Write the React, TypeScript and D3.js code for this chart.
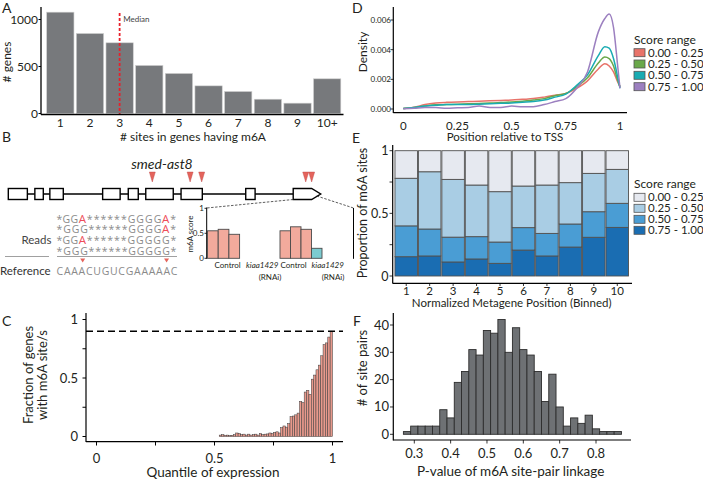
import React from 'react';
import * as d3 from 'd3';

const FONT = "Lato, 'Open Sans', 'Liberation Sans', sans-serif";
const SEQ_FONT = "'Open Sans', 'Noto Sans', sans-serif";
const TXT = '#231f20';

// ---------- Panel A ----------
const siteCategories = ['1', '2', '3', '4', '5', '6', '7', '8', '9', '10+'];
const geneCounts = [1078, 851, 752, 511, 426, 294, 234, 152, 110, 369];
const medianSites = '3';
const aYTicks = [0, 500, 1000];

// ---------- Panel B ----------
const exonStarts = [0, 85, 133, 302, 384, 440, 553, 760, 912];
const exonEnds = [61, 112, 176, 358, 416, 528, 621, 790, 971];
const geneEnd = 1000;
const m6aSites = [461, 582, 619, 952, 971];
const readRows = ['*GGA******GGGGA*', '*GGG******GGGGA*', '*GGA******GGGGG*', '*GGG******GGGGG*'];
const referenceSeq = 'CAAACUGUCGAAAAAC';
const referenceSiteIdx = [3, 14];
const controlScoresA = [0.55, 0.58, 0.48];
const kiaaScoresA = [0, 0];
const controlScoresB = [0.55, 0.63, 0.58];
const kiaaScoresB = [0.2, 0, 0];
const insetTicks = [0, 0.5, 1];

// ---------- Panel C ----------
const quantileFractions = [
  0, 0, 0, 0, 0, 0, 0, 0, 0, 0,
  0, 0, 0, 0, 0, 0, 0, 0, 0, 0,
  0, 0, 0, 0, 0, 0, 0, 0, 0, 0,
  0, 0, 0, 0, 0, 0, 0, 0, 0, 0,
  0, 0, 0, 0, 0, 0, 0, 0, 0, 0,
  0, 0, 0.012, 0.015, 0.01, 0.012, 0.008, 0.01, 0.015, 0.03,
  0.025, 0.015, 0.02, 0.012, 0.02, 0.012, 0.015, 0.02, 0.012, 0.025,
  0.015, 0.02, 0.022, 0.03, 0.025, 0.035, 0.04, 0.03, 0.075, 0.09,
  0.08, 0.11, 0.17, 0.175, 0.185, 0.2, 0.3, 0.29, 0.38, 0.395,
  0.36, 0.49, 0.525, 0.57, 0.61, 0.69, 0.785, 0.8, 0.85, 0.9,
];
const cTicks = [0, 0.25, 0.5, 0.75, 1];
const cLabelTicks = [0, 0.5, 1];
const cThreshold = 0.9;

// ---------- Panel D ----------
const densityPositions = [0, 0.05, 0.1, 0.15, 0.2, 0.25, 0.3, 0.35, 0.4, 0.45, 0.5, 0.55, 0.6, 0.65, 0.7, 0.75, 0.8, 0.85, 0.9, 0.93, 0.95, 0.97, 0.99, 1.0];
const densityS1 = [0.00003, 0.00012, 0.0003, 0.0004, 0.00045, 0.00048, 0.0005, 0.00052, 0.00055, 0.00058, 0.0006, 0.00065, 0.0007, 0.0008, 0.00092, 0.00105, 0.0014, 0.0019, 0.0027, 0.00305, 0.0029, 0.0025, 0.0018, 0.0015];
const densityS2 = [0.00003, 0.0001, 0.0002, 0.00028, 0.0003, 0.00032, 0.00035, 0.00037, 0.0004, 0.00043, 0.00048, 0.00052, 0.0006, 0.0007, 0.0009, 0.00105, 0.0015, 0.0021, 0.0031, 0.0035, 0.0034, 0.0029, 0.0019, 0.0015];
const densityS3 = [0.00003, 0.0001, 0.0002, 0.00025, 0.0003, 0.0003, 0.0003, 0.00032, 0.00035, 0.00038, 0.0004, 0.00045, 0.0005, 0.0006, 0.0008, 0.001, 0.0016, 0.0023, 0.0036, 0.0042, 0.0041, 0.0034, 0.0021, 0.0014];
const densityS4 = [0.00002, 0.00005, 0.0001, 0.0001, 0.00005, 0.00008, 0.0001, 0.0002, 0.0001, 0.0001, 0.0002, 0.00015, 0.00015, 0.0003, 0.0005, 0.0007, 0.0014, 0.0025, 0.0052, 0.0061, 0.0064, 0.0055, 0.0028, 0.0014];
const dYTicks = [0, 0.002, 0.004, 0.006];
const dXTicks = [0, 0.25, 0.5, 0.75, 1];
const scoreRanges = ['0.00 - 0.25', '0.25 - 0.50', '0.50 - 0.75', '0.75 - 1.00'];
const densityColors = ['#e8736a', '#6aa84a', '#19abb2', '#9c80c0'];

// ---------- Panel E ----------
const metageneBins = ['1', '2', '3', '4', '5', '6', '7', '8', '9', '10'];
const propScore0to25 = [0.22, 0.168, 0.229, 0.274, 0.327, 0.282, 0.274, 0.255, 0.181, 0.149];
const propScore25to50 = [0.38, 0.457, 0.461, 0.412, 0.402, 0.332, 0.386, 0.33, 0.306, 0.271];
const propScore50to75 = [0.246, 0.215, 0.198, 0.178, 0.17, 0.179, 0.18, 0.184, 0.204, 0.192];
const propScore75to100 = [0.154, 0.16, 0.112, 0.136, 0.101, 0.207, 0.16, 0.231, 0.309, 0.388];
const eYTicks = [0, 0.25, 0.5, 0.75, 1];
const eLabelTicks = [0, 0.5, 1];
const blueColors = ['#e6e9f0', '#a9cde4', '#4a9dd4', '#1a6db2'];

// ---------- Panel F ----------
const pvalueBinStarts = [0.27, 0.29, 0.31, 0.33, 0.35, 0.37, 0.39, 0.41, 0.43, 0.45, 0.47, 0.49, 0.51, 0.53, 0.55, 0.57, 0.59, 0.61, 0.63, 0.65, 0.67, 0.69, 0.71, 0.73, 0.75, 0.77, 0.79, 0.81, 0.83, 0.85];
const sitePairCounts = [1, 3, 3, 3, 3, 9, 6, 19, 23, 31, 29, 38, 37, 42, 30, 39, 31, 29, 23, 12, 22, 10, 3, 6, 4, 7, 2, 1, 1, 1];
const fBinWidth = 0.02;
const fXTicks = [0.3, 0.4, 0.5, 0.6, 0.7, 0.8];
const fYTicks = [0, 10, 20, 30, 40];

const fmt = (v: number) => (v === 0 ? '0' : String(v));

function PanelA() {
  const x = d3.scaleBand<string>().domain(siteCategories).range([45.5, 342]).paddingInner(0.08).paddingOuter(0.04);
  const y = d3.scaleLinear().domain([0, 1000]).range([113.5, 19.5]);
  const mx = (x(medianSites) as number) + x.bandwidth() / 2;
  return (
    <g>
      <text x={2} y={12.5} fontSize={14} fill={TXT}>A</text>
      {siteCategories.map((c, i) => (
        <rect key={c} x={x(c)} y={y(geneCounts[i])} width={x.bandwidth()} height={y(0) - y(geneCounts[i])}
          fill="#77797c" stroke="#cfcfcf" strokeWidth={0.6} />
      ))}
      <line x1={mx} x2={mx} y1={13} y2={114} stroke="#e8202a" strokeWidth={1.8} strokeDasharray="3,2" />
      <text x={mx + 3.5} y={22} fontSize={8} fill="#444">Median</text>
      <line x1={41} x2={41} y1={7} y2={114.5} stroke="#000" strokeWidth={1.3} />
      <line x1={41} x2={343.5} y1={114.5} y2={114.5} stroke="#000" strokeWidth={1.3} />
      {aYTicks.map(t => (
        <g key={t}>
          <line x1={38.5} x2={41} y1={y(t)} y2={y(t)} stroke="#000" />
          <text x={38} y={y(t) + 4} fontSize={12} textAnchor="end" fill={TXT}>{t}</text>
        </g>
      ))}
      {siteCategories.map(c => (
        <text key={c} x={(x(c) as number) + x.bandwidth() / 2} y={126.5} fontSize={12} textAnchor="middle" fill={TXT}>{c}</text>
      ))}
      <text x={193} y={141} fontSize={12} textAnchor="middle" fill={TXT}># sites in genes having m6A</text>
      <text transform="translate(11,62) rotate(-90)" fontSize={12} textAnchor="middle" fill={TXT}># genes</text>
    </g>
  );
}

// split a sequence into runs of highlighted / plain characters
function seqRuns(seq: string, highlight: boolean) {
  const runs: { start: number; text: string; red: boolean }[] = [];
  seq.split('').forEach((ch, i) => {
    const red = highlight && ch === 'A';
    const lastRun = runs[runs.length - 1];
    if (lastRun && lastRun.red === red && !red) lastRun.text += ch;
    else runs.push({ start: i, text: ch, red });
  });
  return runs;
}

function SeqText({ seq, scale, y, highlight }: { seq: string; scale: d3.ScaleBand<number>; y: number; highlight: boolean }) {
  const bw = scale.bandwidth();
  return (
    <g>
      {seqRuns(seq, highlight).map(r => {
        const x0 = scale(r.start) as number;
        if (r.text.length === 1) {
          return (
            <text key={r.start} x={x0 + bw / 2} y={y} textAnchor="middle" fontFamily={SEQ_FONT}
              fontSize={r.red ? 11.5 : 10.5} fill={r.red ? '#ee4d5a' : '#8a8a8a'}>{r.text}</text>
          );
        }
        return (
          <text key={r.start} x={x0 + 0.6} y={y} textLength={r.text.length * bw - 1.2} lengthAdjust="spacing"
            fontFamily={SEQ_FONT} fontSize={10.5} fill="#8a8a8a">{r.text}</text>
        );
      })}
    </g>
  );
}

function PanelB() {
  const gx = d3.scaleLinear().domain([0, geneEnd]).range([8.3, 320.7]);
  const gy = 194;
  const eh = 5.5;
  const readX = d3.scaleBand<number>().domain(d3.range(16)).range([56, 177]);
  const refX = d3.scaleBand<number>().domain(d3.range(referenceSeq.length)).range([56, 178]);
  const rowY = d3.scaleBand<number>().domain(d3.range(readRows.length)).range([214, 257]);
  const iy = d3.scaleLinear().domain([0, 1]).range([258.3, 208.3]);
  const gA = d3.scaleBand<number>().domain(d3.range(5)).range([207.5, 261]);
  const gB = d3.scaleBand<number>().domain(d3.range(6)).range([280, 343]);
  const last = exonStarts.length - 1;
  const arrowPath = `M${gx(exonStarts[last])},${gy - eh} L${gx(exonEnds[last])},${gy - eh} L${gx(geneEnd)},${gy} L${gx(exonEnds[last])},${gy + eh} L${gx(exonStarts[last])},${gy + eh} Z`;
  const barsA = [...controlScoresA, ...kiaaScoresA];
  const barsB = [...controlScoresB, ...kiaaScoresB];
  return (
    <g>
      <text x={2} y={142} fontSize={14} fill={TXT}>B</text>
      <text x={162} y={169} fontSize={14} fontStyle="italic" textAnchor="middle" fill={TXT}>smed-ast8</text>
      <line x1={gx(exonEnds[0])} x2={gx(exonStarts[last])} y1={gy} y2={gy} stroke="#000" strokeWidth={1.3} />
      {exonStarts.slice(0, last).map((s, i) => (
        <rect key={i} x={gx(s)} y={gy - eh} width={gx(exonEnds[i]) - gx(s)} height={eh * 2} fill="#fff" stroke="#000" strokeWidth={1.4} />
      ))}
      <path d={arrowPath} fill="#fff" stroke="#000" strokeWidth={1.4} />
      {m6aSites.map((s, i) => (
        <path key={i} d={`M${gx(s) - 3},172 L${gx(s) + 3},172 L${gx(s)},182 Z`} fill="#e4645c" stroke="#b44" strokeWidth={0.4} />
      ))}
      <line x1={gx(exonStarts[last])} y1={gy + eh} x2={206.7} y2={208} stroke="#333" strokeWidth={0.8} strokeDasharray="2.5,1.5" />
      <line x1={gx(geneEnd) - 4} y1={gy + 2} x2={353.5} y2={208} stroke="#333" strokeWidth={0.8} strokeDasharray="2.5,1.5" />
      {readRows.map((r, ri) => (
        <SeqText key={ri} seq={r} scale={readX} y={(rowY(ri) as number) + 8.5} highlight={true} />
      ))}
      <text x={51.5} y={244} fontSize={11.5} textAnchor="end" fill="#444">Reads</text>
      <line x1={5} x2={49} y1={256.5} y2={256.5} stroke="#a0a0a0" strokeWidth={1} />
      <line x1={57} x2={177} y1={256.5} y2={256.5} stroke="#a0a0a0" strokeWidth={1} />
      {referenceSiteIdx.map(i => {
        const cx = (refX(i) as number) + refX.bandwidth() / 2;
        return <path key={i} d={`M${cx - 2.5},258.5 L${cx + 2.5},258.5 L${cx},262.5 Z`} fill="#e4645c" />;
      })}
      <text x={0} y={275} fontSize={11.5} fill="#333">Reference</text>
      <SeqText seq={referenceSeq} scale={refX} y={275} highlight={false} />
      {/* inset */}
      <line x1={206.7} x2={206.7} y1={207.5} y2={258.8} stroke="#000" strokeWidth={1} />
      <line x1={353.5} x2={353.5} y1={208} y2={258.8} stroke="#000" strokeWidth={1} />
      {insetTicks.map(t => (
        <g key={t}>
          <line x1={204.5} x2={206.7} y1={iy(t)} y2={iy(t)} stroke="#000" strokeWidth={0.8} />
          <text x={204} y={iy(t) + 3} fontSize={8} textAnchor="end" fill={TXT}>{fmt(t)}</text>
        </g>
      ))}
      <text transform="translate(193,234) rotate(-90)" fontSize={8} textAnchor="middle" fill={TXT}>m6A score</text>
      {barsA.map((v, i) => (
        <rect key={'a' + i} x={gA(i)} y={iy(v)} width={gA.bandwidth()} height={iy(0) - iy(v)}
          fill="#f2aa9c" stroke="#4a4a4a" strokeWidth={0.9} />
      ))}
      {barsB.map((v, i) => (
        <rect key={'b' + i} x={gB(i)} y={iy(v)} width={gB.bandwidth()} height={iy(0) - iy(v)}
          fill={i < controlScoresB.length ? '#f2aa9c' : '#7ccbd0'} stroke="#4a4a4a" strokeWidth={0.9} />
      ))}
      <text x={214.5} y={268} fontSize={8} fill={TXT}>Control</text>
      <text x={246} y={268} fontSize={8} fontStyle="italic" fill={TXT}>kiaa1429</text>
      <text x={270} y={279.5} fontSize={8} textAnchor="middle" fill={TXT}>(RNAi)</text>
      <text x={280.5} y={268} fontSize={8} fill={TXT}>Control</text>
      <text x={311.5} y={268} fontSize={8} fontStyle="italic" fill={TXT}>kiaa1429</text>
      <text x={333} y={279.5} fontSize={8} textAnchor="middle" fill={TXT}>(RNAi)</text>
    </g>
  );
}

function PanelC() {
  const x = d3.scaleLinear().domain([0, 1]).range([96.5, 332.5]);
  const y = d3.scaleLinear().domain([0, 1]).range([436.5, 319.5]);
  const bw = x(0.01) - x(0);
  return (
    <g>
      <text x={2} y={326} fontSize={14} fill={TXT}>C</text>
      {quantileFractions.map((v, i) => (
        <rect key={i} x={x(i / 100)} y={y(v)} width={bw} height={y(0) - y(v)} fill="#e8998c" stroke="#3a3a3a" strokeWidth={0.5} />
      ))}
      <line x1={86} x2={343} y1={y(cThreshold)} y2={y(cThreshold)} stroke="#000" strokeWidth={1.5} strokeDasharray="7,4" />
      <line x1={86} x2={86} y1={313} y2={442} stroke="#000" strokeWidth={1.2} />
      <line x1={86} x2={343} y1={441.7} y2={441.7} stroke="#000" strokeWidth={1.2} />
      {cTicks.map(t => (
        <g key={t}>
          <line x1={82.5} x2={86} y1={y(t)} y2={y(t)} stroke="#000" />
          <line x1={x(t)} x2={x(t)} y1={441.7} y2={445.5} stroke="#000" />
        </g>
      ))}
      {cLabelTicks.map(t => (
        <g key={t}>
          <text x={78} y={y(t) + 4.5} fontSize={13} textAnchor="end" fill={TXT}>{fmt(t)}</text>
          <text x={x(t)} y={463} fontSize={13} textAnchor="middle" fill={TXT}>{fmt(t)}</text>
        </g>
      ))}
      <text x={213} y={476.5} fontSize={13.5} textAnchor="middle" fill={TXT}>Quantile of expression</text>
      <text transform="translate(33,375) rotate(-90)" fontSize={13} textAnchor="middle" fill={TXT}>Fraction of genes</text>
      <text transform="translate(47,375) rotate(-90)" fontSize={13} textAnchor="middle" fill={TXT}>with m6A site/s</text>
    </g>
  );
}

function Legend({ x0, titleY, rowYs, colors }: { x0: number; titleY: number; rowYs: number[]; colors: string[] }) {
  return (
    <g>
      <text x={x0} y={titleY} fontSize={12} fill={TXT}>Score range</text>
      {scoreRanges.map((s, i) => (
        <g key={s}>
          <rect x={x0} y={rowYs[i] - 4} width={11} height={8} fill={colors[i]} stroke="#555" strokeWidth={0.8} />
          <text x={x0 + 14} y={rowYs[i] + 4} fontSize={11.5} fill={TXT}>{s}</text>
        </g>
      ))}
    </g>
  );
}

function PanelD() {
  const x = d3.scaleLinear().domain([0, 1]).range([403.3, 620]);
  const y = d3.scaleLinear().domain([0, 0.006]).range([109, 20]);
  const series = [densityS1, densityS2, densityS3, densityS4];
  const line = d3.line<number>().x((_, i) => x(densityPositions[i])).y(d => y(d)).curve(d3.curveMonotoneX);
  return (
    <g>
      <text x={352} y={12.5} fontSize={14} fill={TXT}>D</text>
      {series.map((s, i) => (
        <path key={i} d={line(s) as string} fill="none" stroke={densityColors[i]} strokeWidth={1.5} />
      ))}
      <line x1={393.3} x2={393.3} y1={7} y2={113} stroke="#000" strokeWidth={1.2} />
      <line x1={393.3} x2={627} y1={112.7} y2={112.7} stroke="#000" strokeWidth={1.2} />
      {dYTicks.map(t => (
        <g key={t}>
          <line x1={390.5} x2={393.3} y1={y(t)} y2={y(t)} stroke="#000" strokeWidth={0.8} />
          <text x={391} y={y(t) + 3} fontSize={8} textAnchor="end" fill={TXT}>{t.toFixed(3)}</text>
        </g>
      ))}
      {dXTicks.map(t => (
        <text key={t} x={x(t)} y={129.5} fontSize={11.5} textAnchor="middle" fill={TXT}>{fmt(t)}</text>
      ))}
      <text x={505} y={141} fontSize={11.5} textAnchor="middle" fill={TXT}>Position relative to TSS</text>
      <text transform="translate(366.5,52) rotate(-90)" fontSize={12} textAnchor="middle" fill={TXT}>Density</text>
      <Legend x0={634} titleY={43.5} rowYs={[52.7, 64, 75.3, 86.7]} colors={densityColors} />
    </g>
  );
}

function PanelE() {
  const x = d3.scaleBand<string>().domain(metageneBins).range([394.5, 629]).paddingInner(0.04).paddingOuter(0.02);
  const y = d3.scaleLinear().domain([0, 1]).range([276, 150.7]);
  const rows = metageneBins.map((b, i) => ({
    bin: b,
    s1: propScore0to25[i], s2: propScore25to50[i], s3: propScore50to75[i], s4: propScore75to100[i],
  }));
  const stack = d3.stack<any>().keys(['s4', 's3', 's2', 's1']);
  const layers = stack(rows);
  const layerColor: Record<string, string> = { s1: blueColors[0], s2: blueColors[1], s3: blueColors[2], s4: blueColors[3] };
  return (
    <g>
      <text x={352} y={143} fontSize={14} fill={TXT}>E</text>
      {layers.map(layer => layer.map((d, i) => (
        <rect key={layer.key + i} x={x(rows[i].bin)} y={y(d[1])} width={x.bandwidth()} height={y(d[0]) - y(d[1])}
          fill={layerColor[layer.key]} stroke="#505050" strokeWidth={0.9} />
      )))}
      <line x1={392.7} x2={392.7} y1={145} y2={283.5} stroke="#000" strokeWidth={1.2} />
      <line x1={392.7} x2={632} y1={283.3} y2={283.3} stroke="#000" strokeWidth={1.2} />
      {eYTicks.map(t => (
        <line key={t} x1={389.5} x2={392.7} y1={y(t)} y2={y(t)} stroke="#000" strokeWidth={0.8} />
      ))}
      {eLabelTicks.map(t => (
        <text key={t} x={388.5} y={y(t) + 4.5} fontSize={12.5} textAnchor="end" fill={TXT}>{fmt(t)}</text>
      ))}
      {metageneBins.map(b => (
        <g key={b}>
          <line x1={(x(b) as number) + x.bandwidth() / 2} x2={(x(b) as number) + x.bandwidth() / 2} y1={283.3} y2={286} stroke="#000" strokeWidth={0.8} />
          <text x={(x(b) as number) + x.bandwidth() / 2} y={295} fontSize={11.5} textAnchor="middle" fill={TXT}>{b}</text>
        </g>
      ))}
      <text x={511.7} y={307} fontSize={11.5} textAnchor="middle" fill={TXT}>Normalized Metagene Position (Binned)</text>
      <text transform="translate(367,213) rotate(-90)" fontSize={12.5} textAnchor="middle" fill={TXT}>Proportion of m6A sites</text>
      <Legend x0={634} titleY={187.7} rowYs={[197.3, 208.3, 219.3, 230.3]} colors={blueColors} />
    </g>
  );
}

function PanelF() {
  const x = d3.scaleLinear().domain([0.3, 0.8]).range([414.3, 596]);
  const y = d3.scaleLinear().domain([0, 40]).range([434.3, 325]);
  return (
    <g>
      <text x={353} y={326} fontSize={14} fill={TXT}>F</text>
      {pvalueBinStarts.map((b, i) => (
        <rect key={i} x={x(b)} y={y(sitePairCounts[i])} width={x(b + fBinWidth) - x(b)} height={y(0) - y(sitePairCounts[i])}
          fill="#6e7174" stroke="#2d2d2d" strokeWidth={0.9} />
      ))}
      <line x1={393.3} x2={393.3} y1={313} y2={440.5} stroke="#000" strokeWidth={1.2} />
      <line x1={393.3} x2={631} y1={440} y2={440} stroke="#000" strokeWidth={1.2} />
      {fYTicks.map(t => (
        <g key={t}>
          <line x1={390} x2={393.3} y1={y(t)} y2={y(t)} stroke="#000" strokeWidth={0.8} />
          <text x={389} y={y(t) + 4.5} fontSize={13} textAnchor="end" fill={TXT}>{t}</text>
        </g>
      ))}
      {fXTicks.map(t => (
        <g key={t}>
          <line x1={x(t)} x2={x(t)} y1={440} y2={443.5} stroke="#000" strokeWidth={0.8} />
          <text x={x(t)} y={458.3} fontSize={13} textAnchor="middle" fill={TXT}>{t.toFixed(1)}</text>
        </g>
      ))}
      <text x={510.7} y={475.5} fontSize={13.5} textAnchor="middle" fill={TXT}>P-value of m6A site-pair linkage</text>
      <text transform="translate(367,368) rotate(-90)" fontSize={13} textAnchor="middle" fill={TXT}># of site pairs</text>
    </g>
  );
}

export default function App() {
  return (
    <svg width={703} height={481} viewBox="0 0 703 481"
      style={{ position: 'absolute', left: 0, top: 0, background: '#fff', fontFamily: FONT }}>
      <rect width={703} height={481} fill="#fff" />
      <PanelA />
      <PanelB />
      <PanelC />
      <PanelD />
      <PanelE />
      <PanelF />
    </svg>
  );
}
